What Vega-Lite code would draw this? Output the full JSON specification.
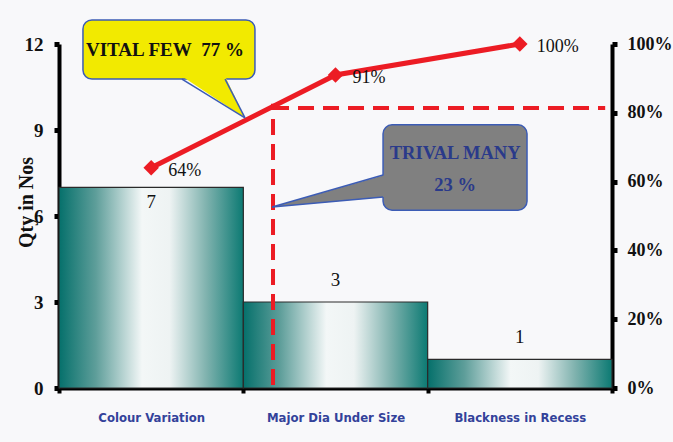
{
  "$schema": "https://vega.github.io/schema/vega-lite/v6.json",
  "width": 553,
  "height": 344,
  "autosize": {"type": "none"},
  "padding": {"left": 59, "top": 44, "right": 61, "bottom": 54},
  "background": "#f8f8fa",
  "config": {"view": {"stroke": null}, "font": "Liberation Serif"},
  "datasets": {
    "pareto": [
      {"category": "Colour Variation", "qty": 7, "cum": 0.64},
      {"category": "Major Dia Under Size", "qty": 3, "cum": 0.91},
      {"category": "Blackness in Recess", "qty": 1, "cum": 1.0}
    ],
    "annotations": [
      {"kind": "dash", "x": 1.161, "x2": 1.161, "y": 0.9, "y2": 82.6},
      {"kind": "dash", "x": 1.161, "x2": 2.963, "y": 81.4, "y2": 81.4},
      {"kind": "vital box", "x": 0.13, "x2": 1.063, "y": 107.0, "y2": 89.8},
      {"kind": "trivial box", "x": 1.758, "x2": 2.539, "y": 76.5, "y2": 51.7},
      {"kind": "vital edge", "x": 0.667, "x2": 1.009, "y": 89.8, "y2": 78.5},
      {"kind": "vital edge", "x": 0.901, "x2": 1.009, "y": 89.8, "y2": 78.5},
      {"kind": "trivial edge", "x": 1.758, "x2": 1.156, "y": 61.9, "y2": 52.6},
      {"kind": "trivial edge", "x": 1.758, "x2": 1.156, "y": 55.5, "y2": 52.6}
    ],
    "vitalPointer": [
      {"y": 90.6, "x": 0.667, "x2": 0.901},
      {"y": 78.5, "x": 1.009, "x2": 1.009}
    ],
    "trivialPointer": [
      {"x": 1.156, "y": 52.6, "y2": 52.6},
      {"x": 1.766, "y": 61.9, "y2": 55.5}
    ],
    "notes": [
      {"kind": "vital", "x": 0.575, "y": 98.3, "text": "VITAL FEW\u00a0 77 %"},
      {"kind": "trivial", "x": 2.149, "y": 68.3, "text": "TRIVAL MANY"},
      {"kind": "trivial", "x": 2.149, "y": 59.0, "text": "23 %"}
    ]
  },
  "layer": [
    {
      "data": {"name": "pareto"},
      "encoding": {
        "x": {
          "field": "category", "type": "nominal", "sort": null,
          "scale": {"paddingInner": 0, "paddingOuter": 0},
          "axis": {
            "title": null, "labelAngle": 0,
            "labelFont": "DejaVu Sans Condensed, Liberation Sans",
            "labelFontSize": 13, "labelFontWeight": "bold", "labelColor": "#33429a",
            "labelPadding": 18, "domainColor": "#000", "domainWidth": 4,
            "tickColor": "#000", "tickWidth": 4, "tickSize": 5, "tickBand": "extent"
          }
        },
        "y": {
          "field": "qty", "type": "quantitative",
          "scale": {"domain": [0, 12], "nice": false},
          "axis": {
            "values": [0, 3, 6, 9, 12], "grid": false,
            "title": "Qty in Nos", "titleFont": "Liberation Serif", "titleFontSize": 20,
            "titleFontWeight": "bold", "titleColor": "#111", "titleX": -33, "titleY": 158,
            "titleAngle": 270, "titleAlign": "center", "titleBaseline": "middle",
            "labelFont": "Liberation Serif", "labelFontSize": 19, "labelFontWeight": "bold",
            "labelColor": "#111", "labelPadding": 11,
            "domainColor": "#000", "domainWidth": 4,
            "tickColor": "#000", "tickWidth": 5, "tickSize": 5
          }
        }
      },
      "layer": [
        {
          "mark": {
            "type": "bar",
            "fill": {
              "gradient": "linear", "x1": 0, "y1": 0, "x2": 1, "y2": 0,
              "stops": [
                {"offset": 0, "color": "#05706b"},
                {"offset": 0.2, "color": "#5e9e9a"},
                {"offset": 0.45, "color": "#f3f7f7"},
                {"offset": 0.6, "color": "#eef3f3"},
                {"offset": 0.8, "color": "#7fb2ae"},
                {"offset": 1, "color": "#0c7a73"}
              ]
            },
            "stroke": "#2a2a2a", "strokeWidth": 1.2
          }
        },
        {
          "transform": [{"filter": "datum.qty > 5"}],
          "mark": {"type": "text", "dy": 15, "baseline": "middle", "font": "Liberation Serif", "fontSize": 19, "color": "#111"},
          "encoding": {"text": {"field": "qty"}}
        },
        {
          "transform": [{"filter": "datum.qty <= 5"}],
          "mark": {"type": "text", "dy": -22, "baseline": "middle", "font": "Liberation Serif", "fontSize": 19, "color": "#111"},
          "encoding": {"text": {"field": "qty"}}
        }
      ]
    },
    {
      "data": {"name": "pareto"},
      "encoding": {
        "x": {
          "field": "category", "type": "nominal", "sort": null,
          "scale": {"paddingInner": 0, "paddingOuter": 0}, "axis": null
        },
        "y": {
          "field": "cum", "type": "quantitative",
          "scale": {"domain": [0, 1], "nice": false},
          "axis": {
            "orient": "right", "values": [0, 0.2, 0.4, 0.6, 0.8, 1], "grid": false,
            "title": null, "format": ".0%",
            "labelFont": "Liberation Serif", "labelFontSize": 18, "labelFontWeight": "bold",
            "labelColor": "#111", "labelPadding": 10,
            "domainColor": "#000", "domainWidth": 4,
            "tickColor": "#000", "tickWidth": 5, "tickSize": 5
          }
        }
      },
      "layer": [
        {"mark": {"type": "line", "color": "#ec1c24", "strokeWidth": 5}},
        {"mark": {"type": "point", "shape": "diamond", "filled": true, "color": "#ec1c24", "size": 240, "opacity": 1}},
        {
          "mark": {"type": "text", "align": "left", "baseline": "middle", "dx": 17, "dy": 3, "font": "Liberation Serif", "fontSize": 18, "color": "#111"},
          "encoding": {"text": {"field": "cum", "type": "quantitative", "format": ".0%"}}
        }
      ]
    },
    {
      "layer": [
        {
          "data": {"name": "annotations"},
          "transform": [{"filter": "datum.kind === 'dash'"}],
          "mark": {"type": "rule", "color": "#ec1c24", "strokeWidth": 4, "strokeDash": [16, 9]},
          "encoding": {
            "x": {"field": "x", "type": "quantitative", "scale": {"domain": [0, 3], "nice": false, "zero": false}, "axis": null},
            "x2": {"field": "x2"},
            "y": {"field": "y", "type": "quantitative", "scale": {"domain": [0, 100], "nice": false}, "axis": null},
            "y2": {"field": "y2"}
          }
        },
        {
          "data": {"name": "annotations"},
          "transform": [{"filter": "datum.kind === 'vital box'"}],
          "mark": {"type": "rect", "fill": "#f2ea00", "stroke": "#3c5cb5", "strokeWidth": 1.5, "cornerRadius": 9},
          "encoding": {
            "x": {"field": "x", "type": "quantitative"},
            "x2": {"field": "x2"},
            "y": {"field": "y", "type": "quantitative"},
            "y2": {"field": "y2"}
          }
        },
        {
          "data": {"name": "annotations"},
          "transform": [{"filter": "datum.kind === 'trivial box'"}],
          "mark": {"type": "rect", "fill": "#808080", "stroke": "#3c5cb5", "strokeWidth": 1.5, "cornerRadius": 9},
          "encoding": {
            "x": {"field": "x", "type": "quantitative"},
            "x2": {"field": "x2"},
            "y": {"field": "y", "type": "quantitative"},
            "y2": {"field": "y2"}
          }
        },
        {
          "data": {"name": "vitalPointer"},
          "mark": {"type": "area", "orient": "horizontal", "fill": "#f2ea00", "opacity": 1},
          "encoding": {
            "y": {"field": "y", "type": "quantitative"},
            "x": {"field": "x", "type": "quantitative"},
            "x2": {"field": "x2"}
          }
        },
        {
          "data": {"name": "trivialPointer"},
          "mark": {"type": "area", "orient": "vertical", "fill": "#808080", "opacity": 1},
          "encoding": {
            "x": {"field": "x", "type": "quantitative"},
            "y": {"field": "y", "type": "quantitative"},
            "y2": {"field": "y2"}
          }
        },
        {
          "data": {"name": "annotations"},
          "transform": [{"filter": "indexof(datum.kind, 'edge') >= 0"}],
          "mark": {"type": "rule", "color": "#3c5cb5", "strokeWidth": 1.5},
          "encoding": {
            "x": {"field": "x", "type": "quantitative"},
            "x2": {"field": "x2"},
            "y": {"field": "y", "type": "quantitative"},
            "y2": {"field": "y2"}
          }
        },
        {
          "data": {"name": "notes"},
          "transform": [{"filter": "datum.kind === 'vital'"}],
          "mark": {"type": "text", "baseline": "middle", "align": "center", "font": "Liberation Serif", "fontSize": 19, "fontWeight": "bold", "color": "#111"},
          "encoding": {
            "x": {"field": "x", "type": "quantitative"},
            "y": {"field": "y", "type": "quantitative"},
            "text": {"field": "text"}
          }
        },
        {
          "data": {"name": "notes"},
          "transform": [{"filter": "datum.kind === 'trivial'"}],
          "mark": {"type": "text", "baseline": "middle", "align": "center", "font": "Liberation Serif", "fontSize": 18.5, "fontWeight": "bold", "color": "#2a3a8a"},
          "encoding": {
            "x": {"field": "x", "type": "quantitative"},
            "y": {"field": "y", "type": "quantitative"},
            "text": {"field": "text"}
          }
        }
      ]
    }
  ],
  "resolve": {"scale": {"x": "independent", "y": "independent"}}
}
